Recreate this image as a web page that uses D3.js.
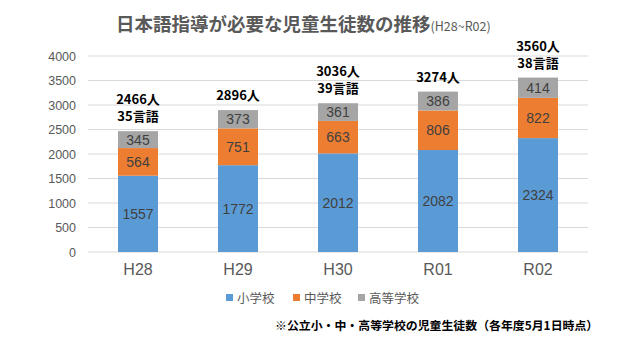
<!DOCTYPE html>
<html><head><meta charset="utf-8">
<script src="https://cdn.jsdelivr.net/npm/d3@7"></script>
<style>body{margin:0;background:#fff}svg{display:block}</style>
</head><body><svg id="c" width="640" height="360"></svg>
<script>
const categories = ["H28","H29","H30","R01","R02"];
const seriesNames = ["小学校","中学校","高等学校"];
const elementary = [1557,1772,2012,2082,2324];
const juniorHigh = [564,751,663,806,822];
const highSchool = [345,373,361,386,414];
const totalLabels = [["2466人","35言語"],["2896人"],["3036人","39言語"],["3274人"],["3560人","38言語"]];
const yTicks = [0,500,1000,1500,2000,2500,3000,3500,4000];
const colors = ["#5B9BD5","#ED7D31","#A5A5A5"];

(function(){
const svg = d3.select("#c");
const jp = "'Noto Sans CJK JP', sans-serif";
const num = "'Liberation Sans', Arial, sans-serif";
const x = d3.scaleBand().domain(categories).range([88,588]).paddingInner(0.6).paddingOuter(0.3);
const y = d3.scaleLinear().domain([0,4000]).range([252,56]);

// grid
svg.append("g").selectAll("line").data(yTicks).join("line")
  .attr("x1",88).attr("x2",588).attr("y1",d=>y(d)).attr("y2",d=>y(d))
  .attr("stroke","#d9d9d9").attr("stroke-width",1);

// y axis
const ya = svg.append("g").attr("transform","translate(88,0)")
  .call(d3.axisLeft(y).tickValues(yTicks).tickFormat(d3.format("d")).tickSize(0).tickPadding(12));
ya.select(".domain").remove();
ya.selectAll("text").attr("font-family",num).attr("font-size",12.5).attr("fill","#595959");

// stack
const rows = categories.map((c,i)=>({cat:c, s0:elementary[i], s1:juniorHigh[i], s2:highSchool[i]}));
const stack = d3.stack().keys(["s0","s1","s2"])(rows);
const g = svg.append("g");
stack.forEach((layer,li)=>{
  g.selectAll(null).data(layer).join("rect")
    .attr("x",d=>x(d.data.cat)).attr("width",x.bandwidth())
    .attr("y",d=>y(d[1])).attr("height",d=>y(d[0])-y(d[1]))
    .attr("fill",colors[li]);
  g.selectAll(null).data(layer).join("text")
    .attr("x",d=>x(d.data.cat)+x.bandwidth()/2)
    .attr("y",d=>(y(d[0])+y(d[1]))/2)
    .attr("dy","0.36em").attr("text-anchor","middle")
    .attr("font-family",num).attr("font-size",14).attr("fill","#404040")
    .text(d=>d[1]-d[0]);
});

// totals (one text element per bar, lines as tspans)
const topLayer = stack[2];
categories.forEach((c,i)=>{
  const lines = totalLabels[i];
  const yt = y(topLayer[i][1]);
  const cx = x(c)+x.bandwidth()/2;
  const t = svg.append("text")
    .attr("x",cx)
    .attr("y",yt-10-(lines.length-1)*17)
    .attr("text-anchor","middle")
    .attr("font-family",jp).attr("font-weight","bold").attr("font-size",13).attr("fill","#000");
  lines.forEach((s,k)=>{
    t.append("tspan").attr("x",cx).attr("dy",k===0?0:17).text(s);
  });
});

// x axis labels
const xa = svg.append("g").attr("transform","translate(0,252)")
  .call(d3.axisBottom(x).tickSize(0).tickPadding(12));
xa.select(".domain").remove();
xa.selectAll("text").attr("font-family",num).attr("font-size",16).attr("fill","#595959");

// title
const title = svg.append("text").attr("x",116).attr("y",31)
  .attr("font-family",jp).attr("font-weight","bold").attr("fill","#595959");
title.append("tspan").attr("font-size",18.5).text("日本語指導が必要な児童生徒数の推移");
title.append("tspan").attr("font-size",12.5).attr("font-weight","normal").text("(H28~R02)");

// legend
const legX = [226,293,358];
seriesNames.forEach((n,i)=>{
  svg.append("rect").attr("x",legX[i]).attr("y",294).attr("width",7).attr("height",7).attr("fill",colors[i]);
  svg.append("text").attr("x",legX[i]+11).attr("y",302.5)
    .attr("font-family",jp).attr("font-size",12.5).attr("fill","#595959").text(n);
});

// footnote
svg.append("text").attr("x",275).attr("y",329.5)
  .attr("font-family",jp).attr("font-weight","bold").attr("font-size",11.9).attr("fill","#000")
  .text("※公立小・中・高等学校の児童生徒数（各年度5月1日時点）");
})();
</script></body></html>
